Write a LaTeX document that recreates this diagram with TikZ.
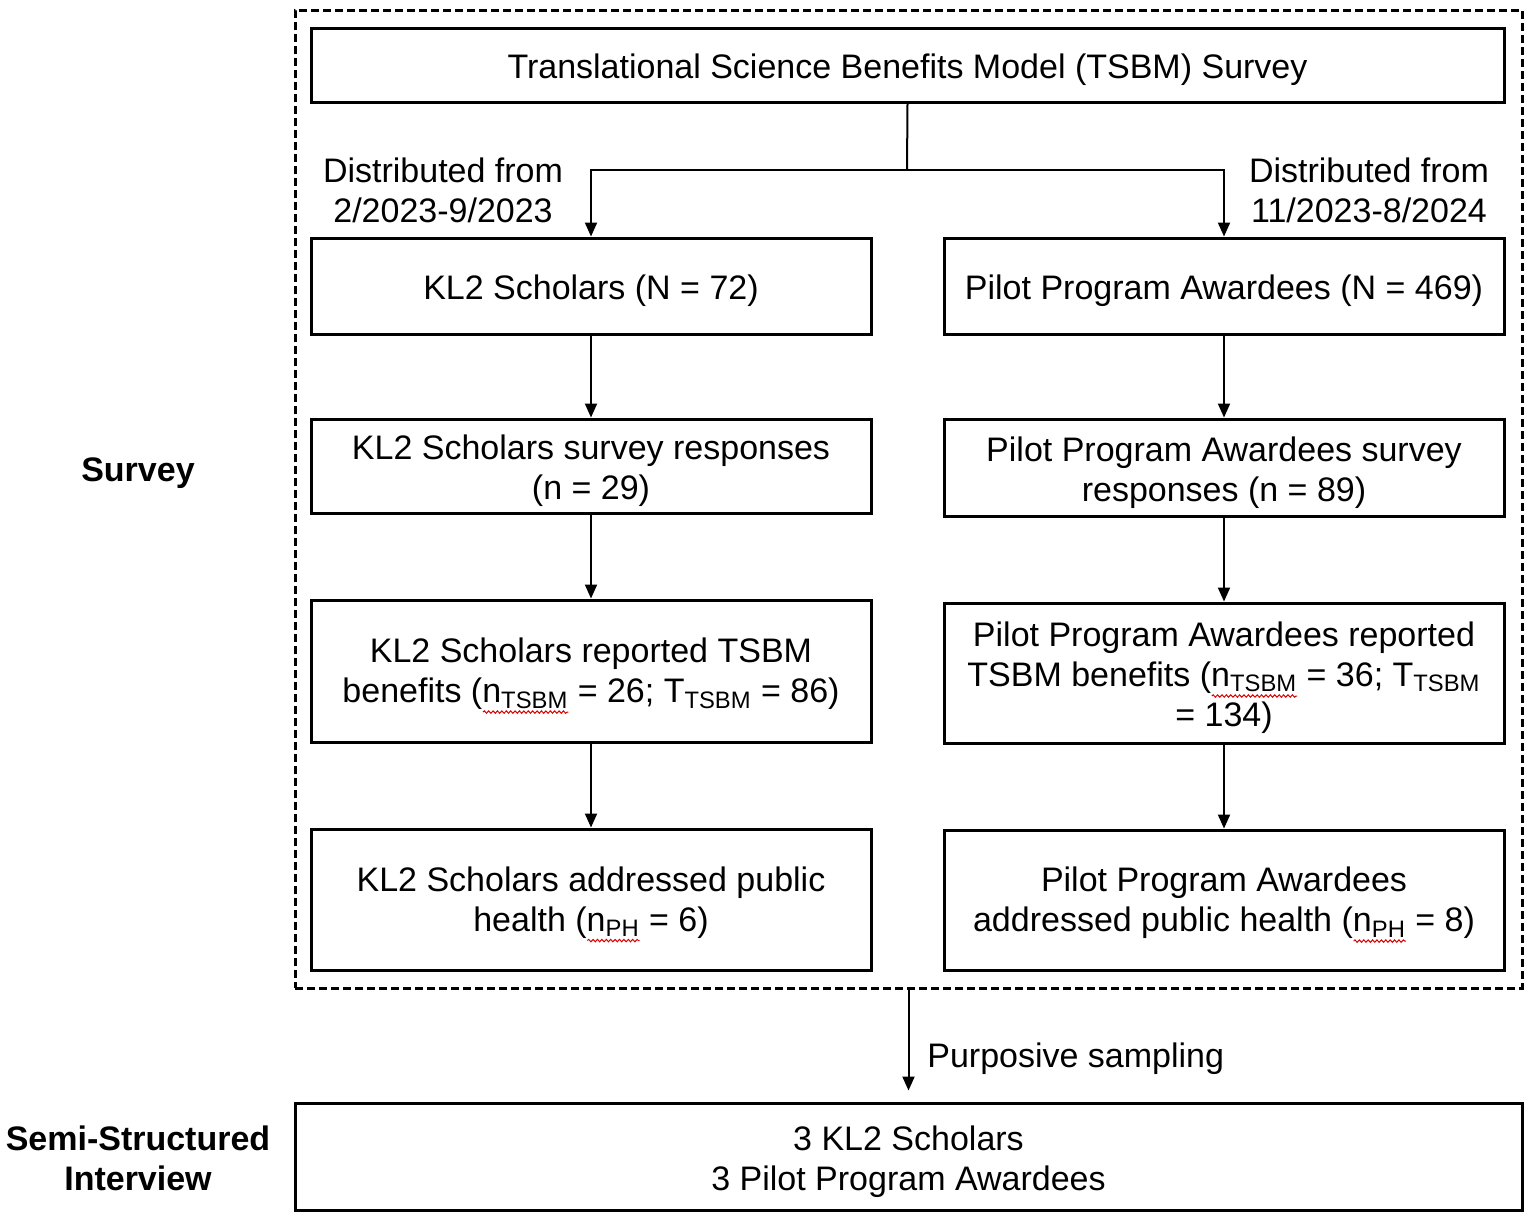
\documentclass[tikz,border=0pt]{standalone}
\usepackage{fontspec}
\setmainfont{Liberation Sans}
\usetikzlibrary{arrows.meta,decorations.pathmorphing}
\newsavebox\wavybox
\newlength\wavylen
\newcommand{\redwave}[1]{\sbox\wavybox{#1}\setlength\wavylen{\wd\wavybox}\leavevmode\rlap{\tikz[baseline=0pt,x=1pt,y=1pt]{\path (0,0);\draw[red!85!black, line width=0.5pt, decorate, decoration={snake, amplitude=0.6pt, segment length=2.2pt}] (0.3pt,-4.6pt) -- (\wavylen,-4.6pt);}}\usebox\wavybox}
\begin{document}
\begin{tikzpicture}[x=0.5pt,y=-0.5pt,
  font=\fontsize{17}{20}\selectfont,
  box/.style={draw, line width=1.5pt, inner sep=0pt, align=center},
  txt/.style={align=center, inner sep=0pt, yshift=-2.5pt},
  dashbox/.style={draw, line width=1.5pt, dash pattern=on 4pt off 2pt, inner sep=0pt},
  arr/.style={-{Triangle[length=7pt,width=6pt]}, line width=1pt},
  lbl/.style={align=center, inner sep=0pt}]
\useasboundingbox (0,0) rectangle (1531,1217);

\node[dashbox, minimum width=613.5pt, minimum height=489pt] (outer) at (908.5,499) {};

\node[box, minimum width=596.5pt, minimum height=37pt,
  label={[txt]center:{Translational Science Benefits Model (TSBM) Survey}}] (top) at (907.5,65) {};

\node[box, minimum width=280pt, minimum height=48pt,
  label={[txt]center:{KL2 Scholars (N = 72)}}] (k1) at (591,286) {};
\node[box, minimum width=280pt, minimum height=48pt,
  label={[txt]center:{Pilot Program Awardees (N = 469)}}] (p1) at (1224,286) {};

\node[box, minimum width=280pt, minimum height=47pt,
  label={[txt]center:{KL2 Scholars survey responses\\(n = 29)}}] (k2) at (591,466) {};
\node[box, minimum width=280pt, minimum height=48.5pt,
  label={[txt]center:{Pilot Program Awardees survey\\responses (n = 89)}}] (p2) at (1224,467.5) {};

\node[box, minimum width=280pt, minimum height=71pt,
  label={[txt]center:{KL2 Scholars reported TSBM\\benefits (\redwave{n\textsubscript{TSBM}} = 26; T\textsubscript{TSBM} = 86)}}] (k3) at (591,671) {};
\node[box, minimum width=280pt, minimum height=70pt,
  label={[txt]center:{Pilot Program Awardees reported\\TSBM benefits (\redwave{n\textsubscript{TSBM}} = 36; T\textsubscript{TSBM}\\= 134)}}] (p3) at (1224,673) {};

\node[box, minimum width=280pt, minimum height=70.5pt,
  label={[txt]center:{KL2 Scholars addressed public\\health (\redwave{n\textsubscript{PH}} = 6)}}] (k4) at (591,899.5) {};
\node[box, minimum width=280pt, minimum height=70pt,
  label={[txt]center:{Pilot Program Awardees\\addressed public health (\redwave{n\textsubscript{PH}} = 8)}}] (p4) at (1224,900) {};

\node[box, minimum width=613.5pt, minimum height=53.5pt,
  label={[txt]center:{3 KL2 Scholars\\3 Pilot Program Awardees}}] (bot) at (908.5,1156.5) {};

\node[lbl] (dl) at (443,190) {Distributed from\\2/2023-9/2023};
\node[lbl] (dr) at (1369,190) {Distributed from\\11/2023-8/2024};

\node[lbl, font=\fontsize{17}{20}\selectfont\bfseries] (sv) at (138,473) {Survey};
\node[lbl, font=\fontsize{17}{20}\selectfont\bfseries] (ssi) at (138,1158) {Semi-Structured\\Interview};

\coordinate (j) at (907,170);
\draw[line width=1pt] (top.south) -- (j);
\draw[arr] (j) -| (k1.north);
\draw[arr] (j) -| (p1.north);

\draw[arr] (k1) -- (k2);
\draw[arr] (k2) -- (k3);
\draw[arr] (k3) -- (k4);
\draw[arr] (p1) -- (p2);
\draw[arr] (p2) -- (p3);
\draw[arr] (p3) -- (p4);

\draw[arr, shorten >=5.5pt] (outer.south) -- (bot.north);
\node[lbl, anchor=west] (ps) at (927,1059) {Purposive sampling};
\end{tikzpicture}
\end{document}
